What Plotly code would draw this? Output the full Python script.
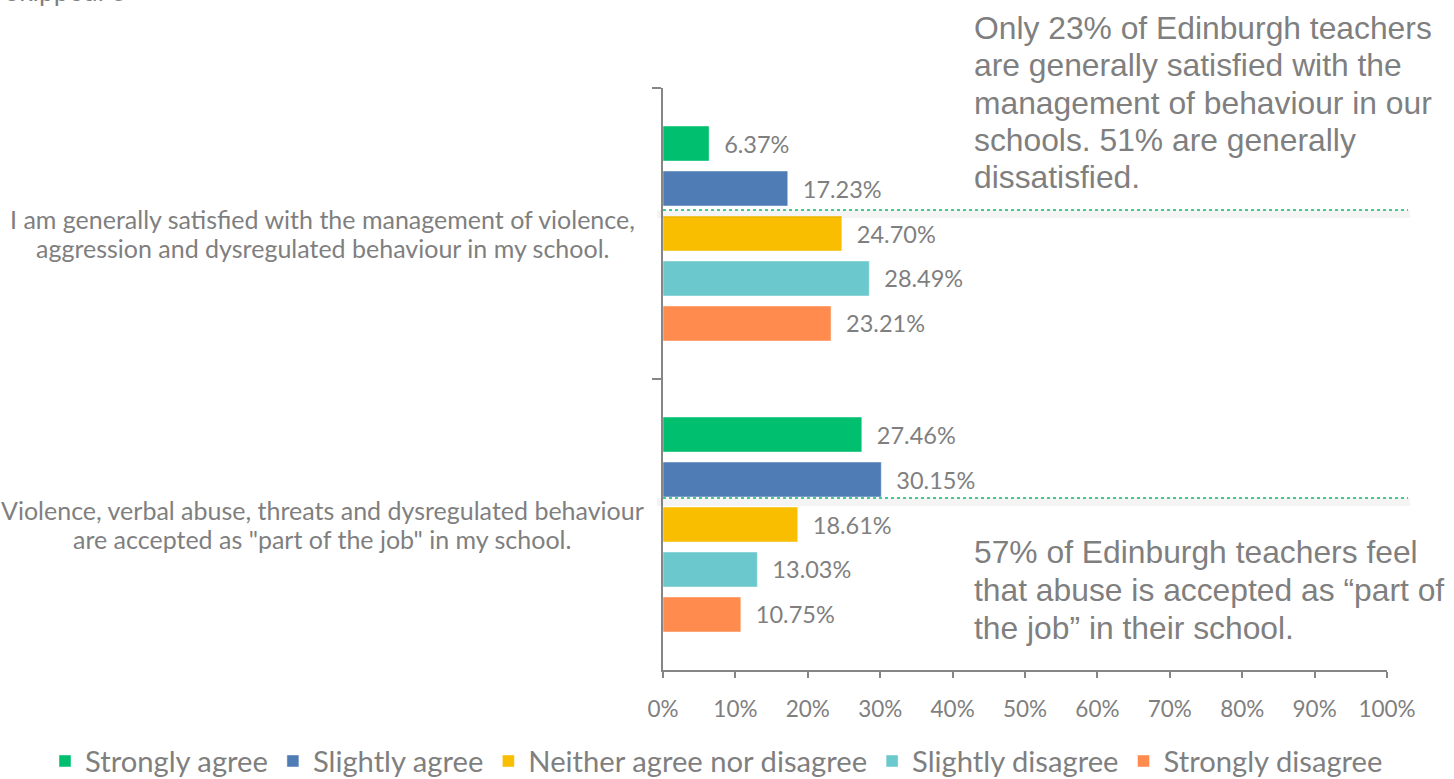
import plotly.graph_objects as go

# Survey statements (top to bottom) and response shares in percent
statements = [
    "I am generally satisfied with the management of violence,<br>aggression and dysregulated behaviour in my school.",
    "Violence, verbal abuse, threats and dysregulated behaviour<br>are accepted as \"part of the job\" in my school.",
]
responses = ["Strongly agree", "Slightly agree", "Neither agree nor disagree",
             "Slightly disagree", "Strongly disagree"]
strongly_agree = [6.37, 27.46]
slightly_agree = [17.23, 30.15]
neither = [24.70, 18.61]
slightly_disagree = [28.49, 13.03]
strongly_disagree = [23.21, 10.75]
series = [strongly_agree, slightly_agree, neither, slightly_disagree, strongly_disagree]
colors = ["#00BF6F", "#507CB6", "#F9BE00", "#6BC8CD", "#FF8B4F"]

x_ticks = list(range(0, 101, 10))
x_tick_labels = ["0%", "10%", "20%", "30%", "40%", "50%", "60%", "70%", "80%", "90%", "100%"]

callout_top = [
    "Only 23% of Edinburgh teachers",
    "are generally satisfied with the",
    "management of behaviour in our",
    "schools. 51% are generally",
    "dissatisfied.",
]
callout_bottom = [
    "57% of Edinburgh teachers feel",
    "that abuse is accepted as \u201cpart of",
    "the job\u201d in their school.",
]

GREY = "#7F7F7F"
AXIS = "#868686"
BODY_FONT = "Lato"
NOTE_FONT = "Liberation Sans"

W, H = 1454, 779
L, R, T, B = 663, 67, 88, 109
PW, PH = W - L - R, H - T - B


def px_x(p):
    return (p - L) / PW


def px_y(p):
    return (H - B - p) / PH


fig = go.Figure()
for name, vals, col in zip(responses, series, colors):
    fig.add_trace(go.Bar(
        y=statements, x=vals, name=name, orientation="h",
        marker=dict(color=col, line=dict(color="rgba(255,255,255,0.45)", width=1)),
        texttemplate="\u00a0\u00a0%{x:.2f}%", textposition="outside",
        textfont=dict(family=BODY_FONT, size=23.5, color=GREY),
        cliponaxis=False, hoverinfo="skip",
    ))

# Category labels, centred to the left of the axis, one annotation per line
for s in statements:
    lines = s.split("<br>")
    for k, line in enumerate(lines):
        fig.add_annotation(x=px_x(322), y=s, xref="paper", yref="y", text=line,
                           yshift=15 - 29 * k,
                           showarrow=False, xanchor="center", yanchor="middle", align="center",
                           font=dict(family=BODY_FONT, size=25, color=GREY))

# Dotted divider lines with a soft shadow beneath
for ypix in (210, 498):
    fig.add_shape(type="line", xref="paper", yref="paper",
                  x0=px_x(657), x1=px_x(1410), y0=px_y(ypix + 4), y1=px_y(ypix + 4),
                  line=dict(color="rgba(0,0,0,0.045)", width=8))
    fig.add_shape(type="line", xref="paper", yref="paper",
                  x0=px_x(663), x1=px_x(1408), y0=px_y(ypix), y1=px_y(ypix),
                  line=dict(color="#00BF6F", width=1.3, dash="dot"))

# Call-out notes
for i, line in enumerate(callout_top):
    fig.add_annotation(x=px_x(972), y=px_y(28 + 37.3 * i), xref="paper", yref="paper",
                       text=line, showarrow=False, xanchor="left", yanchor="middle",
                       font=dict(family=NOTE_FONT, size=31.8, color=GREY))
for i, line in enumerate(callout_bottom):
    fig.add_annotation(x=px_x(972), y=px_y(552 + 38 * i), xref="paper", yref="paper",
                       text=line, showarrow=False, xanchor="left", yanchor="middle",
                       font=dict(family=NOTE_FONT, size=31.8, color=GREY))

fig.add_annotation(x=px_x(3), y=px_y(9), xref="paper", yref="paper", text="Skipped: 3",
                   showarrow=False, xanchor="left", yanchor="bottom",
                   font=dict(family=BODY_FONT, size=26.5, color=GREY))

fig.update_layout(
    width=W, height=H,
    margin=dict(l=L, r=R, t=T, b=B, pad=0, autoexpand=False),
    paper_bgcolor="white", plot_bgcolor="white",
    barmode="group", bargap=0.227, bargroupgap=0.222,
    showlegend=True,
    legend=dict(orientation="h", x=px_x(45), xanchor="left", y=px_y(761), yanchor="middle",
                font=dict(family=BODY_FONT, size=29.2, color=GREY), traceorder="normal",
                itemwidth=30, tracegroupgap=0),
    xaxis=dict(range=[0, 100], tickvals=x_ticks, ticktext=x_tick_labels, showgrid=False,
               zeroline=False, showline=True, linecolor=AXIS, linewidth=1.5, ticks="outside",
               ticklen=6, tickcolor=AXIS, tickwidth=1.5, ticklabelstandoff=12,
               tickfont=dict(family=BODY_FONT, size=22.5, color=GREY)),
    yaxis=dict(type="category", autorange="reversed", showticklabels=False, showgrid=False,
               showline=True, linecolor=AXIS, linewidth=1.5, ticks="outside", ticklen=9,
               tickson="boundaries", tickcolor=AXIS, tickwidth=1.5, zeroline=False),
)

fig.write_html("out.html")
